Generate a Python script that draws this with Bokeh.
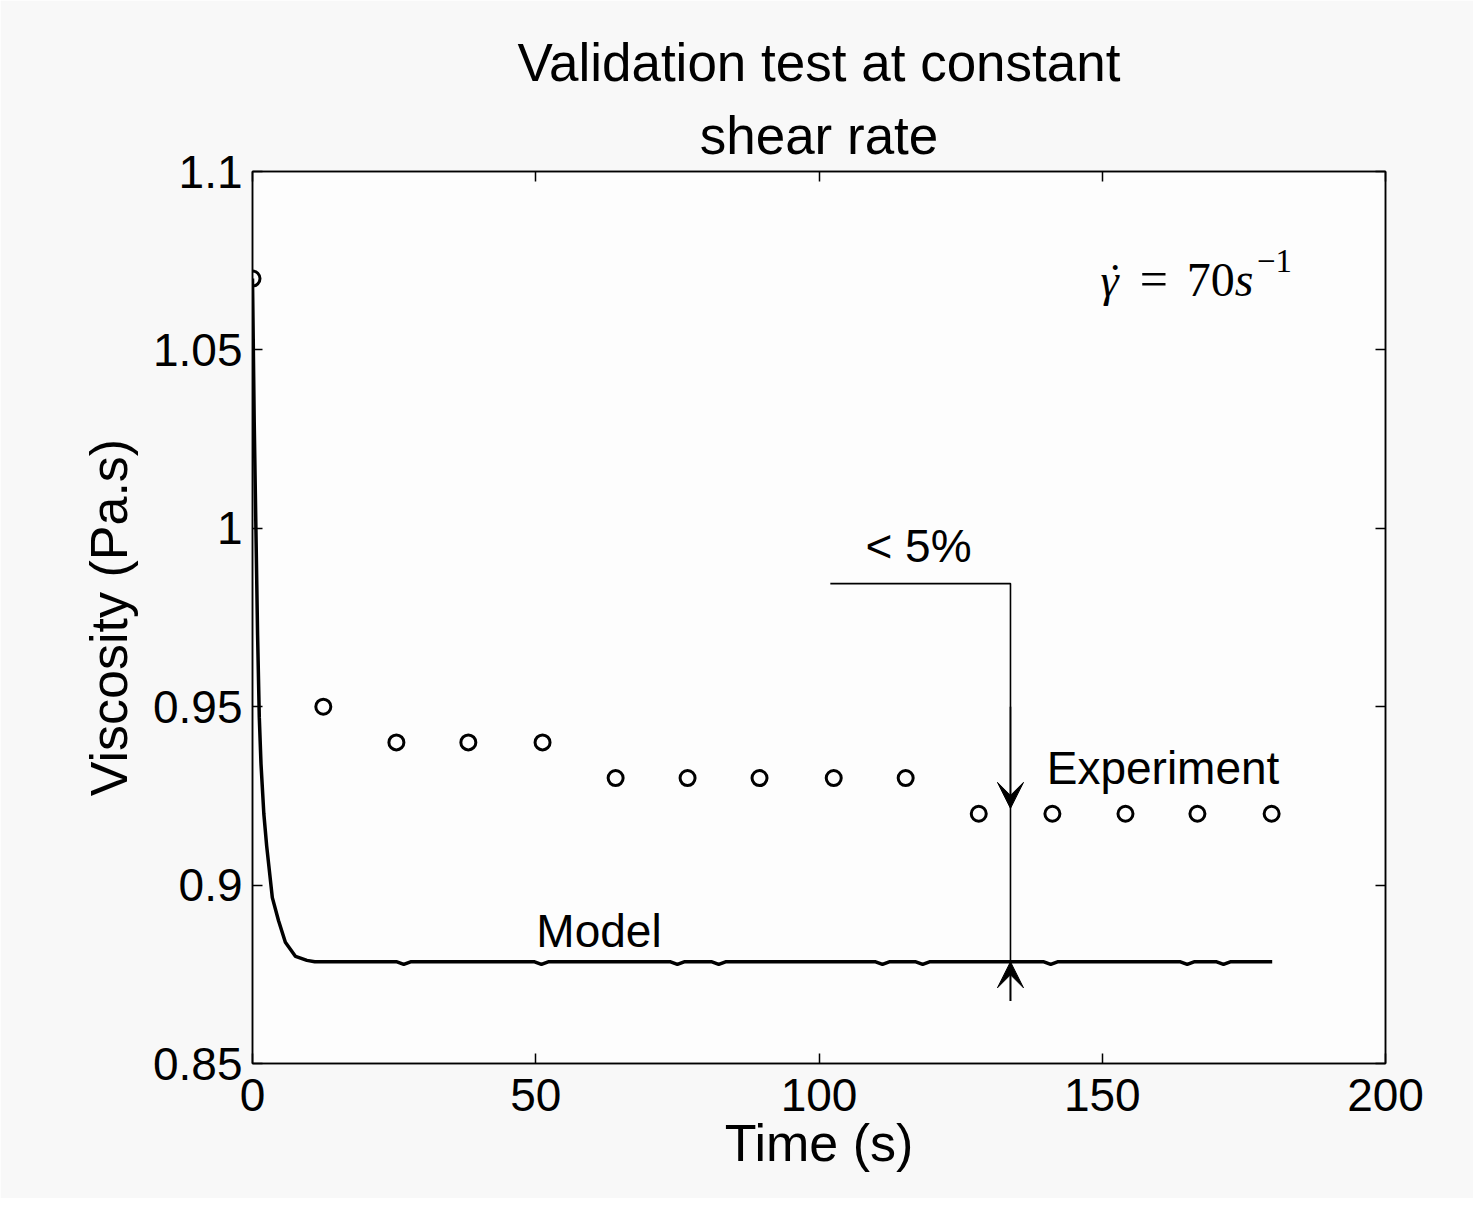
from bokeh.plotting import figure
from bokeh.models import (LinearAxis, FixedTicker, Label, Arrow, VeeHead,
                          Range1d, Title)
from bokeh.embed import file_html
from bokeh.resources import INLINE

# ---------------- data ----------------
exp_time = [0, 12.5, 25.4, 38.1, 51.2, 64.1, 76.8, 89.5, 102.6, 115.3,
            128.2, 141.2, 154.1, 166.8, 179.9]
exp_visc = [1.07, 0.95, 0.94, 0.94, 0.94, 0.93, 0.93, 0.93, 0.93, 0.93,
            0.92, 0.92, 0.92, 0.92, 0.92]

model_time = [0, 0.3, 0.6, 0.9, 1.2, 1.5, 2.0, 2.5, 3.5, 4.6, 5.8, 7.6, 9.6, 11.0,
              25.5, 26.7, 27.9, 49.8, 51.0, 52.2, 73.8, 75.0, 76.2,
              81.1, 82.3, 83.5, 110.0, 111.2, 112.4, 117.1, 118.3, 119.5,
              139.7, 140.9, 142.1, 163.8, 165.0, 166.2, 170.2, 171.4, 172.6, 180.0]
model_visc = [1.07, 1.03, 1.0, 0.97, 0.947, 0.934, 0.92, 0.911, 0.8965, 0.89, 0.884,
              0.880, 0.8789, 0.8785,
              0.8785, 0.8778, 0.8785, 0.8785, 0.8778, 0.8785, 0.8785, 0.8778, 0.8785,
              0.8785, 0.8778, 0.8785, 0.8785, 0.8778, 0.8785, 0.8785, 0.8778, 0.8785,
              0.8785, 0.8778, 0.8785, 0.8785, 0.8778, 0.8785, 0.8785, 0.8778, 0.8785,
              0.8785]

x_ticks = [0, 50, 100, 150, 200]
y_ticks = [0.85, 0.9, 0.95, 1.0, 1.05, 1.1]
y_tick_labels = ["0.85", "0.9", "0.95", "1", "1.05", "1.1"]

title_line1 = "Validation test at constant"
title_line2 = "shear rate"

# annotation (bracket "< 5%")
bracket_x = [102.0, 133.8, 133.8]
bracket_y = [0.9845, 0.9845, 0.8675]
arrow_x = 133.8
arrow_down = (0.95, 0.9215)   # start, tip
arrow_up = (0.8675, 0.8785)   # start, tip

FONT = "Liberation Sans"
SERIF = "Liberation Serif"
PX_PER_UNIT = 3568.0          # vertical pixels per data unit (frame 892px / 0.25)

p = figure(width=1473, height=1198,
           x_range=Range1d(0, 200), y_range=Range1d(0.85, 1.1),
           output_backend="svg", toolbar_location=None,
           min_border_left=252, min_border_right=88,
           min_border_top=171, min_border_bottom=135,
           background_fill_color="#fdfdfd", border_fill_color="#f8f8f8")

p.grid.visible = False
p.outline_line_color = "black"
p.outline_line_width = 1.5

# axes
xa = p.xaxis[0]
ya = p.yaxis[0]
xa.ticker = FixedTicker(ticks=x_ticks)
ya.ticker = FixedTicker(ticks=y_ticks)
ya.major_label_overrides = {t: l for t, l in zip(y_ticks, y_tick_labels)}
xa.axis_label = "Time (s)"
ya.axis_label = "Viscosity (Pa.s)"
for ax in (xa, ya):
    ax.axis_label_text_font = FONT
    ax.axis_label_text_font_size = "52px"
    ax.axis_label_text_font_style = "normal"
    ax.axis_label_text_color = "black"
    ax.major_label_text_font = FONT
    ax.major_label_text_font_size = "46px"
    ax.major_label_text_color = "black"
xa.axis_label_standoff = 0
ya.axis_label_standoff = 12
xa.major_label_standoff = 15
ya.major_label_standoff = 10

top = LinearAxis(ticker=FixedTicker(ticks=x_ticks), major_label_text_color=None)
right = LinearAxis(ticker=FixedTicker(ticks=y_ticks), major_label_text_color=None)
p.add_layout(top, "above")
p.add_layout(right, "right")

for ax in (xa, ya, top, right):
    ax.major_tick_in = 10
    ax.major_tick_out = 0
    ax.minor_tick_in = 0
    ax.minor_tick_out = 0
    ax.axis_line_color = "black"
    ax.axis_line_width = 1.5
    ax.major_tick_line_color = "black"
    ax.major_tick_line_width = 1.5

# two-line title, each line centered (second line nearest the frame)
sub = Title(text=title_line2)
p.add_layout(sub, "above")
p.title.text = title_line1
for t in (p.title, sub):
    t.align = "center"
    t.vertical_align = "top"
    t.text_font = FONT
    t.text_font_size = "53px"
    t.text_font_style = "normal"
    t.text_color = "black"
sub.standoff = 9
p.title.standoff = 15

# data
p.line(model_time, model_visc, line_color="black", line_width=3.5)
p.scatter(exp_time, exp_visc, marker="circle", size=15, fill_color=None,
          line_color="black", line_width=3)

# bracket and arrows
p.line(bracket_x, bracket_y, line_color="black", line_width=1.6)
for (ys, ye) in (arrow_down, arrow_up):
    p.add_layout(Arrow(end=VeeHead(size=26, fill_color="black", line_color="black"),
                       x_start=arrow_x, y_start=ys, x_end=arrow_x, y_end=ye,
                       line_color="black", line_width=1.6))

def lab(x, y, text, size=46, font=FONT, style="normal", align="left"):
    dy = 0.365 * size / PX_PER_UNIT      # baseline correction
    p.add_layout(Label(x=x, y=y + dy, text=text, text_font=font,
                       text_font_size=f"{size}px",
                       text_font_style=style, text_color="black",
                       text_baseline="alphabetic", text_align=align))

lab(50.1, 0.8825, "Model")
lab(140.2, 0.928, "Experiment")
lab(108.2, 0.9904, "< 5%")

# shear-rate label  (gamma-dot = 70 s^-1)
lab(149.7, 1.0647, "γ", font=SERIF, style="italic")
lab(152.3, 1.0647, "˙", font=SERIF, align="center")
lab(156.6, 1.0647, "=", size=50, font=SERIF)
lab(164.9, 1.0647, "70", size=48, font=SERIF)
lab(173.4, 1.0647, "s", size=48, font=SERIF, style="italic")
lab(177.3, 1.0714, "−1", size=33, font=SERIF)

open("out.html", "w").write(file_html(p, INLINE))
